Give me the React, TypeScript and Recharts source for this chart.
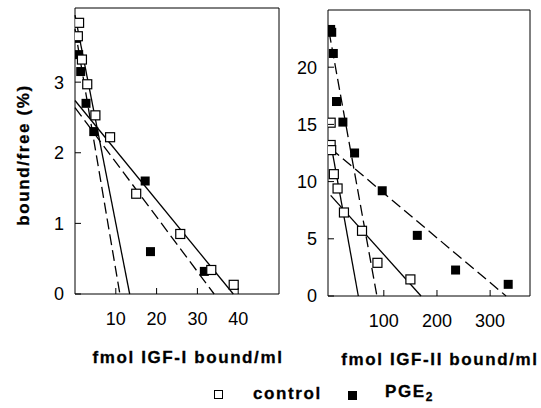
import React from 'react';
import { ScatterChart, Scatter, XAxis, YAxis, ReferenceLine, ReferenceArea } from 'recharts';

const FONT = '"Liberation Sans", Arial, Helvetica, sans-serif';

// IGF-I panel
const igf1ControlX = [1.0, 0.7, 1.7, 3.0, 5.0, 8.6, 15.0, 25.8, 33.4, 38.9];
const igf1ControlY = [3.84, 3.65, 3.32, 2.97, 2.53, 2.22, 1.42, 0.85, 0.34, 0.13];
const igf1PgeX = [0.4, 0.9, 1.4, 2.7, 4.6, 17.2, 18.5, 31.7];
const igf1PgeY = [3.62, 3.39, 3.15, 2.7, 2.3, 1.6, 0.6, 0.32];
// fitted lines: [x1, y1, x2, y2]
const igf1ControlFits = [[0, 3.95, 13.4, 0], [0, 2.74, 38.8, 0]];
const igf1PgeFits = [[0, 3.75, 11.0, 0], [0, 2.64, 34.1, 0]];
const igf1XTicks = [10, 20, 30, 40];
const igf1YTicks = [0, 1, 2, 3];

// IGF-II panel
const igf2ControlX = [0, 0, 1, 6, 13, 25, 59, 88, 150];
const igf2ControlY = [15.15, 13.2, 12.75, 10.65, 9.4, 7.3, 5.7, 2.9, 1.45];
const igf2PgeX = [0, 2, 5, 11, 23, 45, 97, 163, 235, 334];
const igf2PgeY = [23.3, 23.05, 21.2, 17.0, 15.2, 12.5, 9.2, 5.3, 2.27, 1.02];
const igf2ControlFits = [[0, 13.4, 52, 0], [0, 8.8, 170, 0]];
const igf2PgeFits = [[-3, 23.1, 87, 0], [0, 12.9, 330, 0]];
const igf2XTicks = [100, 200, 300];
const igf2YTicks = [0, 5, 10, 15, 20];

const zip = (xs: number[], ys: number[]) => xs.map((x, i) => ({ x, y: ys[i] }));

const OpenSquare = (p: any) => (
  <rect x={p.cx - 4.5} y={p.cy - 4.5} width={9} height={9} fill="#fff" stroke="#000" strokeWidth={1.2} />
);
const FilledSquare = (p: any) => (
  <rect x={p.cx - 4.5} y={p.cy - 4.5} width={9} height={9} fill="#000" />
);

const XTick = (p: any) => (
  <g>
    <line x1={p.x} y1={p.y} x2={p.x} y2={p.y - 6} stroke="#000" />
    <text x={p.x} y={p.y + 31} textAnchor="middle" fontSize={18} fontFamily={FONT} fill="#000">
      {p.payload.value}
    </text>
  </g>
);

const YTick = (p: any) => (
  <g>
    <line x1={p.x} y1={p.y} x2={p.x + 6} y2={p.y} stroke="#000" />
    <text x={p.x - 11} y={p.y} dy="0.36em" textAnchor="end" fontSize={18} fontFamily={FONT} fill="#000">
      {p.payload.value}
    </text>
  </g>
);

const xLabel = (text: string) => (props: any) => {
  const vb = props.viewBox;
  return (
    <text x={vb.x + vb.width / 2 + 11} y={vb.y + 69} textAnchor="middle" fontSize={17}
      fontWeight="bold" letterSpacing={1.6} fontFamily={FONT} fill="#000" stroke="#000" strokeWidth={0.3}>
      {text}
    </text>
  );
};

const yLabel = (text: string) => (props: any) => {
  const vb = props.viewBox;
  const x = vb.x + 29;
  const y = vb.y + vb.height / 2 + 4;
  return (
    <text x={x} y={y} transform={`rotate(-90, ${x}, ${y})`} textAnchor="middle" fontSize={17}
      fontWeight="bold" letterSpacing={1.6} fontFamily={FONT} fill="#000" stroke="#000" strokeWidth={0.3}>
      {text}
    </text>
  );
};

interface PanelProps {
  width: number;
  margin: { top: number; right: number; bottom: number; left: number };
  yWidth: number;
  xDomain: [number, number];
  yDomain: [number, number];
  xTicks: number[];
  yTicks: number[];
  control: { x: number; y: number }[];
  pge: { x: number; y: number }[];
  controlFits: number[][];
  pgeFits: number[][];
  xTitle: string;
  yTitle?: string;
}

function Panel(props: PanelProps) {
  return (
    <ScatterChart width={props.width} height={408} margin={props.margin}>
      <XAxis type="number" dataKey="x" domain={props.xDomain} allowDataOverflow ticks={props.xTicks}
        tickSize={0} tickMargin={0} tickLine={false} axisLine={false} height={70}
        tick={<XTick />} label={{ content: xLabel(props.xTitle) }} />
      <YAxis type="number" dataKey="y" domain={props.yDomain} allowDataOverflow ticks={props.yTicks}
        tickSize={0} tickMargin={0} tickLine={false} axisLine={false} width={props.yWidth}
        tick={<YTick />} label={props.yTitle ? { content: yLabel(props.yTitle) } : undefined} />
      <ReferenceArea y1={props.yDomain[0]} y2={props.yDomain[1]} fill="none" stroke="#000"
        strokeWidth={1} fillOpacity={0} />
      {props.controlFits.map((f, i) => (
        <ReferenceLine key={'c' + i} segment={[{ x: f[0], y: f[1] }, { x: f[2], y: f[3] }]}
          stroke="#000" strokeWidth={1.3} />
      ))}
      {props.pgeFits.map((f, i) => (
        <ReferenceLine key={'p' + i} segment={[{ x: f[0], y: f[1] }, { x: f[2], y: f[3] }]}
          stroke="#000" strokeWidth={1.3} strokeDasharray="11 5" />
      ))}
      <Scatter data={props.pge} shape={FilledSquare} isAnimationActive={false} />
      <Scatter data={props.control} shape={OpenSquare} isAnimationActive={false} />
    </ScatterChart>
  );
}

export default function App() {
  const legendText = { position: 'absolute' as const, fontSize: 17, fontWeight: 'bold' as const, letterSpacing: 1.6, lineHeight: '20px', WebkitTextStroke: '0.3px #000' };
  return (
    <div style={{ position: 'absolute', left: 0, top: 0, width: 541, height: 408, background: '#fff', fontFamily: FONT }}>
      <div style={{ position: 'absolute', left: 0, top: 0 }}>
        <Panel width={290} margin={{ top: 8, right: 11, bottom: 44, left: 0 }} yWidth={75}
          xDomain={[0, 50]} yDomain={[0, 4.05]} xTicks={igf1XTicks} yTicks={igf1YTicks}
          control={zip(igf1ControlX, igf1ControlY)} pge={zip(igf1PgeX, igf1PgeY)}
          controlFits={igf1ControlFits} pgeFits={igf1PgeFits}
          xTitle="fmol IGF-I bound/ml" yTitle="bound/free (%)" />
      </div>
      <div style={{ position: 'absolute', left: 290, top: 0 }}>
        <Panel width={251} margin={{ top: 10, right: 11, bottom: 42, left: 0 }} yWidth={38}
          xDomain={[-5, 375]} yDomain={[0, 25]} xTicks={igf2XTicks} yTicks={igf2YTicks}
          control={zip(igf2ControlX, igf2ControlY)} pge={zip(igf2PgeX, igf2PgeY)}
          controlFits={igf2ControlFits} pgeFits={igf2PgeFits}
          xTitle="fmol IGF-II bound/ml" />
      </div>
      <div style={{ position: 'absolute', left: 214, top: 390, width: 9, height: 9, boxSizing: 'border-box', border: '1.2px solid #000', background: '#fff' }} />
      <div style={{ ...legendText, left: 253, top: 384 }}>control</div>
      <div style={{ position: 'absolute', left: 348, top: 391, width: 9, height: 9, background: '#000' }} />
      <div style={{ ...legendText, left: 385, top: 382 }}>
        PGE<sub style={{ fontSize: 12, letterSpacing: 0 }}>2</sub>
      </div>
    </div>
  );
}
